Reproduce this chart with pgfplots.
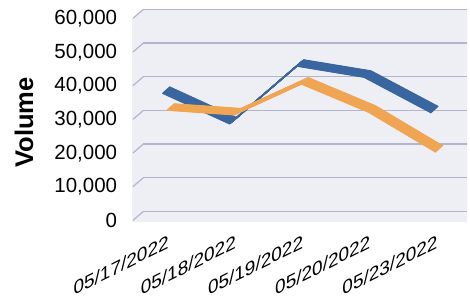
\documentclass[border=0pt]{standalone}
\usepackage{pgfplots}
\pgfplotsset{compat=1.18}
\usepackage{pgfplotstable}
\usepackage{fontspec}
\setmainfont{Liberation Sans}
\definecolor{bgc}{HTML}{EEEEF5}
\definecolor{gridc}{HTML}{B4B4CE}
\definecolor{bluec}{HTML}{3A66A0}
\definecolor{orangec}{HTML}{F0A552}
\pgfplotstableread{
x y
0 36030
1 26900
2 44050
3 40760
4 30170
}\bluedata
\pgfplotstableread{
x y
0 30980
1 29580
2 38750
3 30380
4 18500
}\orangedata
\begin{document}
\begin{tikzpicture}[x=1pt,y=1pt]
\useasboundingbox (0,0) rectangle (470,305);
\fill[bgc] (132,83) -- (132,286.7) -- (143,295.7) -- (467,295.7) -- (467,83) -- cycle;
\foreach \i in {0,...,6}{
  \draw[gridc, line width=1.2pt] (133,{93.7+\i*33.667-9}) -- (143.5,{93.7+\i*33.667});
}
\begin{axis}[
  at={(143pt,93.7pt)}, anchor=south west,
  scale only axis, width=324pt, height=202pt,
  xmin=-0.34, xmax=4.48, ymin=0, ymax=60000,
  axis line style={draw=none}, major tick length=0pt,
  ytick={0,10000,20000,30000,40000,50000,60000},
  ymajorgrids, grid style={gridc, line width=1.2pt},
  xtick={0,1,2,3,4},
  xticklabels={05/17/2022,05/18/2022,05/19/2022,05/20/2022,05/23/2022},
  scaled y ticks=false,
  /pgf/number format/.cd, 1000 sep={,}, assume math mode=true,
  /pgfplots/.cd,
  ticklabel style={inner sep=0pt},
  yticklabel style={font=\fontsize{20.5}{24}\selectfont, anchor=east, xshift=-25.7pt, yshift=-9.5pt},
  xticklabel style={font=\fontsize{19}{22}\selectfont, xshift=3pt, yshift=-22.7pt, cm={1,0.5,0,1,(0,0)}, anchor=north east},
  ylabel={Volume},
  ylabel style={font=\bfseries\fontsize{25.5}{30}\selectfont, at={(axis description cs:-0.367,0.44)}, anchor=center},
  clip=false,
]
\pgfplotsinvokeforeach{0,...,20}{
  \addplot[bluec, line width=1.2pt, line cap=butt, line join=round, mark=none,
    xshift={(-3.5+0.35*#1)*1pt}, yshift={(-3.15+0.315*#1)*1pt}] table[x=x,y=y]{\bluedata};
}
\pgfplotsinvokeforeach{0,...,20}{
  \addplot[orangec, line width=1.2pt, line cap=butt, line join=round, mark=none,
    xshift={(1+0.35*#1)*1pt}, yshift={(-3.15+0.315*#1)*1pt}] table[x=x,y=y]{\orangedata};
}
\end{axis}
\end{tikzpicture}
\end{document}
